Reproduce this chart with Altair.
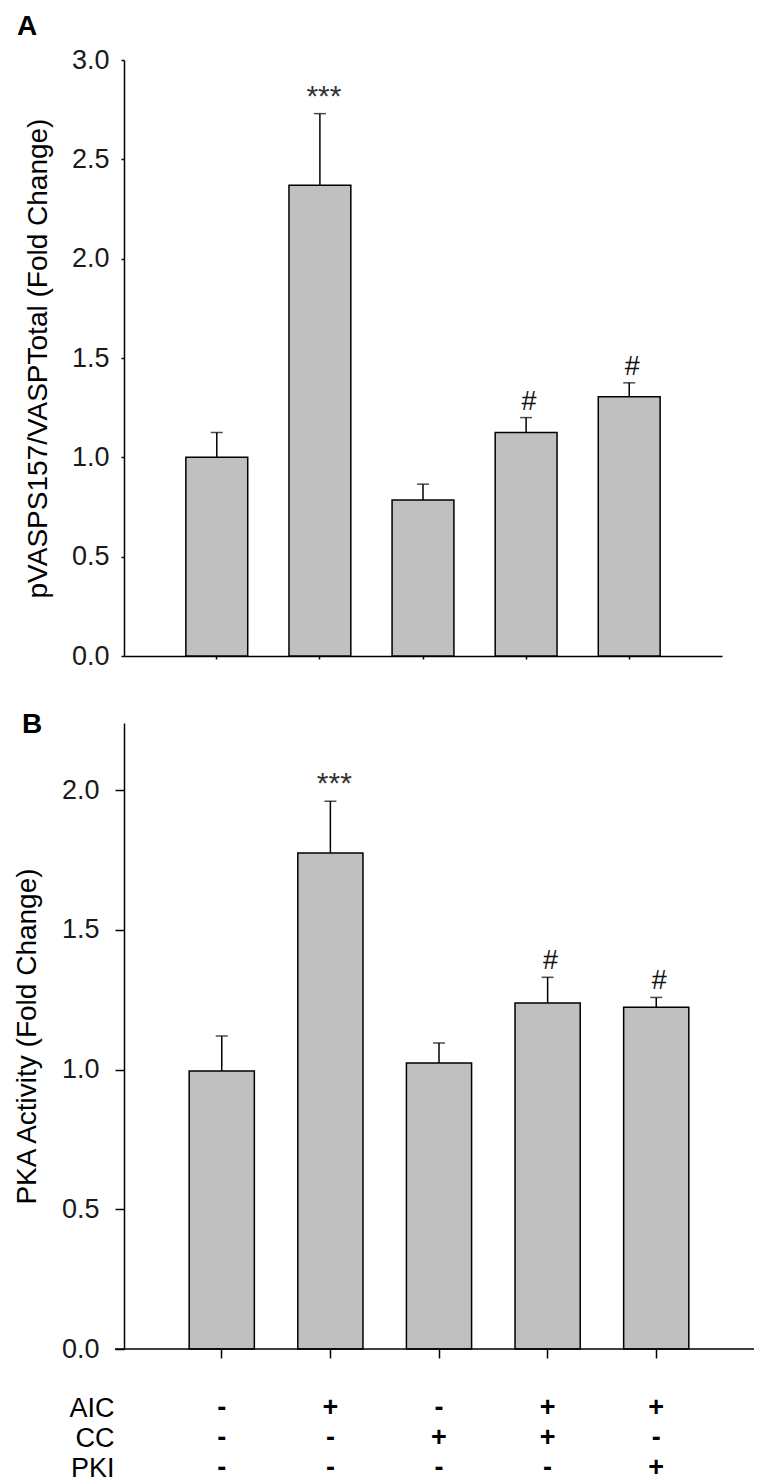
import altair as alt
import pandas as pd

FONT = "Liberation Sans"

# ---------------- data ----------------
groups = ["G1", "G2", "G3", "G4", "G5"]
factors = ["AIC", "CC", "PKI"]
aic = ["-", "+", "-", "+", "+"]
cc = ["-", "-", "+", "+", "-"]
pki = ["-", "-", "-", "-", "+"]

# Panel A: pVASP S157 / VASP total (fold change)
vasp_mean = [1.00, 2.37, 0.785, 1.125, 1.305]
vasp_sem = [0.125, 0.36, 0.08, 0.075, 0.07]
vasp_sig = ["", "***", "", "#", "#"]

# Panel B: PKA activity (fold change)
pka_mean = [0.995, 1.775, 1.023, 1.238, 1.223]
pka_sem = [0.125, 0.185, 0.072, 0.092, 0.035]
pka_sig = ["", "***", "", "#", "#"]

vasp_df = pd.DataFrame({"group": groups, "mean": vasp_mean, "sem": vasp_sem, "sig": vasp_sig})
pka_df = pd.DataFrame({"group": groups, "mean": pka_mean, "sem": pka_sem, "sig": pka_sig})

table_rows = []
for g, a, c, p in zip(groups, aic, cc, pki):
    table_rows += [{"group": g, "factor": "AIC", "sign": a},
                   {"group": g, "factor": "CC", "sign": c},
                   {"group": g, "factor": "PKI", "sign": p}]
table_df = pd.DataFrame(table_rows)

BAR_FILL = "#c0c0c0"
FS = 27
TFS = 28


def make_panel(df, ytitle, ymax, yvals, width, height, xtick, ytick, ylabpad, ytitlepad,
               letter, letter_x, letter_y, extend_left=0, table=False):
    xscale = alt.Scale(paddingInner=0.4, paddingOuter=0.6)
    yscale = alt.Scale(domain=[0, ymax], nice=False, zero=True)
    base = alt.Chart(df).transform_calculate(upper="datum.mean + datum.sem")
    xenc = alt.X("group:N", sort=groups, scale=xscale,
                 axis=alt.Axis(title=None, labels=False, ticks=True, tickSize=xtick,
                               tickColor="black", tickWidth=1.5,
                               domain=(extend_left == 0), domainColor="black",
                               domainWidth=1.5, grid=False))
    bars = base.mark_bar(fill=BAR_FILL, stroke="black", strokeWidth=1.5).encode(
        x=xenc,
        y=alt.Y("mean:Q", scale=yscale,
                axis=alt.Axis(values=yvals, format=".1f", title=ytitle, grid=False,
                              tickSize=ytick, tickColor="black", tickWidth=1.5,
                              domainColor="black", domainWidth=1.5,
                              labelFont=FONT, labelFontSize=FS, labelColor="#1a1a1a",
                              labelPadding=ylabpad, titleFont=FONT, titleFontSize=TFS,
                              titleFontWeight="normal", titleColor="black",
                              titlePadding=ytitlepad)),
    )
    err = base.mark_rule(color="black", strokeWidth=1.5).encode(
        x=alt.X("group:N", sort=groups), y="mean:Q", y2="upper:Q")
    cap = base.mark_tick(color="black", thickness=1.5, size=12).encode(
        x=alt.X("group:N", sort=groups), y="upper:Q")
    stars = base.transform_filter("datum.sig == '***'").mark_text(
        font=FONT, fontSize=30, color="#333333", baseline="alphabetic", dy=-8, dx=4).encode(
        x=alt.X("group:N", sort=groups), y="upper:Q", text="sig:N")
    hashes = base.transform_filter("datum.sig == '#'").mark_text(
        font=FONT, fontSize=27, color="#111111", baseline="alphabetic", dy=-8, dx=3).encode(
        x=alt.X("group:N", sort=groups), y="upper:Q", text="sig:N")
    lab = alt.Chart(pd.DataFrame({"t": [letter]})).mark_text(
        font=FONT, fontSize=28, fontWeight="bold", align="left", baseline="middle",
        color="black").encode(text="t:N", x=alt.value(letter_x), y=alt.value(letter_y))
    layers = [bars, err, cap, stars, hashes, lab]
    if extend_left:
        dom = alt.Chart(pd.DataFrame({"t": [0]})).mark_rule(color="black", strokeWidth=1.5).encode(
            x=alt.value(-extend_left), x2=alt.value(width), y=alt.value(height))
        layers.append(dom)
    main = alt.layer(*layers)
    if table:
        tab = alt.Chart(table_df).mark_text(
            font=FONT, fontSize=FS, fontWeight="bold", color="black", baseline="middle").encode(
            x=alt.X("group:N", sort=groups),
            y=alt.Y("factor:N", sort=factors,
                    scale=alt.Scale(type="point", range=[685, 745], padding=0),
                    axis=alt.Axis(orient="left", title=None, domain=False, ticks=False,
                                  labelPadding=10, labelFont=FONT, labelFontSize=FS,
                                  labelColor="black", grid=False)),
            text="sign:N")
        return alt.layer(main, tab).resolve_scale(y="independent").properties(
            width=width, height=height)
    return main.properties(width=width, height=height)


top = make_panel(vasp_df, "pVASPS157/VASPTotal (Fold Change)", 3.0,
                 [0.0, 0.5, 1.0, 1.5, 2.0, 2.5, 3.0], 598, 596, 3, 3, 12, 19,
                 "A", -107, -33)
bottom = make_panel(pka_df, "PKA Activity (Fold Change)", 2.24,
                    [0.0, 0.5, 1.0, 1.5, 2.0], 630, 626, 9, 9, 16, 20,
                    "B", -102, 2, extend_left=9, table=True)

chart = alt.vconcat(top, bottom, spacing=42).properties(
    padding={"left": 5, "top": 5, "right": 5, "bottom": 5},
    background="white",
).configure_view(stroke=None)

chart.save("out.html", embed_options={"renderer": "svg", "actions": False})
